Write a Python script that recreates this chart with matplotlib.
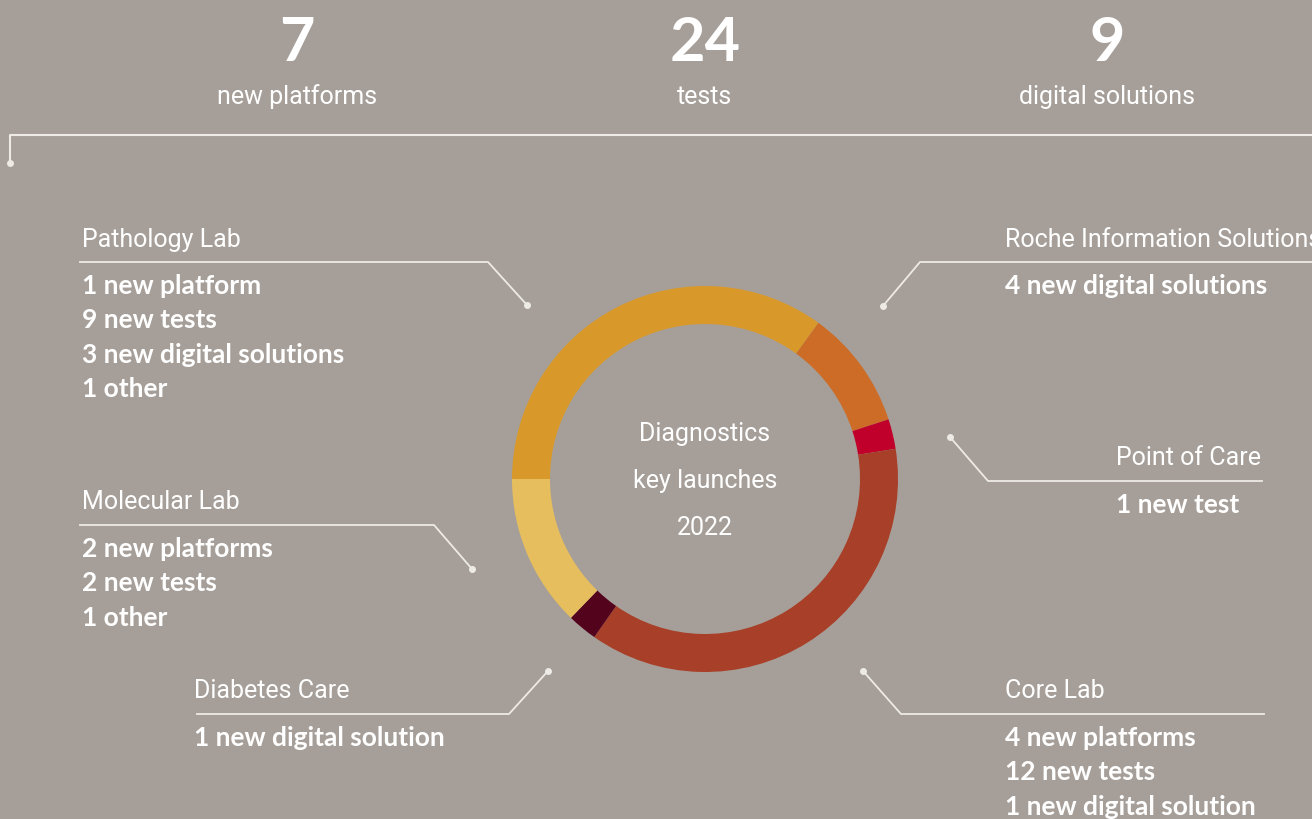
import matplotlib
matplotlib.use('Agg')
import matplotlib.pyplot as plt

# headline numbers
top_values = ['7', '24', '9']
top_labels = ['new platforms', 'tests', 'digital solutions']

segments = ['Pathology Lab', 'Roche Information Solutions', 'Point of Care',
            'Core Lab', 'Diabetes Care', 'Molecular Lab']
arc_deg = [126, 36, 9, 134, 9, 46]
seg_colors = ['#D8992A', '#CC6C27', '#C0002A', '#A83F28', '#54031D', '#E6BE5E']

# launch details per area
details = {
    'Pathology Lab': ['1 new platform', '9 new tests', '3 new digital solutions', '1 other'],
    'Roche Information Solutions': ['4 new digital solutions'],
    'Point of Care': ['1 new test'],
    'Molecular Lab': ['2 new platforms', '2 new tests', '1 other'],
    'Diabetes Care': ['1 new digital solution'],
    'Core Lab': ['4 new platforms', '12 new tests', '1 new digital solution'],
}
center_text = ['Diagnostics', 'key launches', '2022']

bg = '#A69F99'
fg = 'white'
line_c = '#EEEAE6'

light = ['Roboto', 'DejaVu Sans']
bold = ['Lato', 'DejaVu Sans']

fig = plt.figure(figsize=(13.12, 8.2), dpi=100, facecolor=bg)
ax = fig.add_axes([0, 0, 1, 1])
ax.set_facecolor(bg)

# donut (y axis is flipped below, so counterclock here reads clockwise)
ax.pie(arc_deg, colors=seg_colors, startangle=180, counterclock=True,
       radius=193, center=(705, 480),
       wedgeprops=dict(width=38, linewidth=0))

ax.set_xlim(0, 1312)
ax.set_ylim(820, 0)
ax.set_aspect('equal')
ax.axis('off')

# headline row
for x, v, lab in zip([297, 705, 1107], top_values, top_labels):
    ax.text(x, 43, v, ha='center', va='center', color=fg, fontsize=44,
            family=bold, weight='bold')
    ax.text(x, 97, lab, ha='center', va='center', color=fg, fontsize=18,
            family=light)

# bracket under headline
ax.plot([1312, 10, 10], [136, 136, 164], color=line_c, lw=1.5)
ax.plot(10, 164, 'o', color=line_c, ms=4)

for i, t in enumerate(center_text):
    ax.text(705, 434 + i * 47, t, ha='center', va='center', color=fg,
            fontsize=18, family=light)

# label blocks: title x, title y, leader line (x0, x1, y), elbow -> dot
blocks = {
    'Pathology Lab': (82, 240, [80, 488], 263, (527, 306)),
    'Roche Information Solutions': (1005, 240, [1312, 920], 263, (883, 307)),
    'Point of Care': (1116, 458, [1262, 988], 482, (950, 438)),
    'Molecular Lab': (82, 502, [80, 434], 526, (472, 570)),
    'Diabetes Care': (194, 691, [197, 509], 715, (548, 672)),
    'Core Lab': (1005, 691, [1264, 901], 715, (863, 672)),
}
for name, (tx, ty, xs, ly, dot) in blocks.items():
    ax.text(tx, ty, name, ha='left', va='center', color=fg, fontsize=18,
            family=light)
    ax.plot([xs[0], xs[1], dot[0]], [ly, ly, dot[1]], color=line_c, lw=1.3)
    ax.plot(dot[0], dot[1], 'o', color=line_c, ms=4)
    for j, d in enumerate(details[name]):
        ax.text(tx, ly + 23 + j * 34.5, d, ha='left', va='center', color=fg,
                fontsize=19, family=bold, weight='bold')

fig.savefig('out.png', dpi=100, facecolor=bg)
